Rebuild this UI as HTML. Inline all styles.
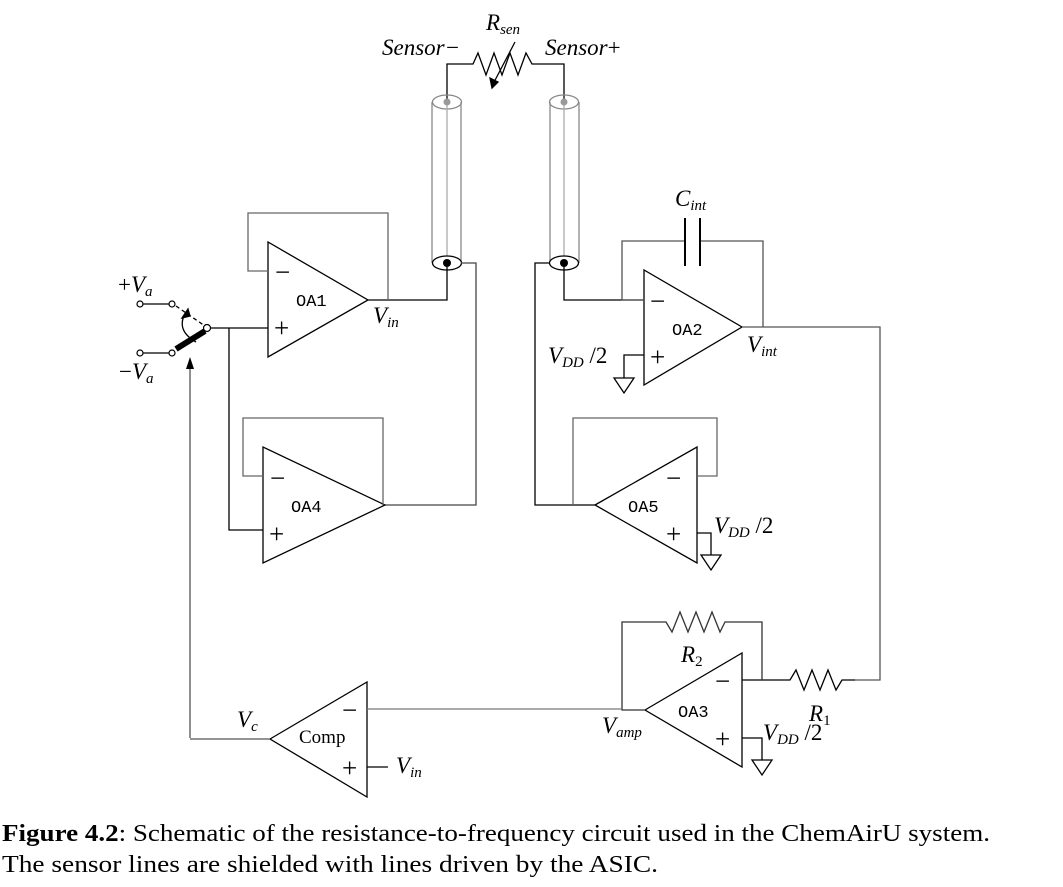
<!DOCTYPE html>
<html><head><meta charset="utf-8"><style>
body{margin:0;background:#fff;width:1063px;height:887px;overflow:hidden;position:relative}
svg{position:absolute;left:0;top:0}
</style></head><body>
<svg width="1063" height="887" viewBox="0 0 1063 887" font-family="Liberation Serif,serif">
<g fill="none" stroke="#000" stroke-width="1.3">
<polyline points="447,100 447,64 473,64 478,53 486,75 494,53 502,75 510,53 518,75 526,53 532,64 564,64 564,100"/>
<line x1="515" y1="42" x2="492" y2="86"/><polygon points="492,88 490,78 498,82" fill="#000"/>
<g stroke="#888">
<line x1="432" y1="102" x2="432" y2="263"/><line x1="461" y1="102" x2="461" y2="263"/>
<ellipse cx="447" cy="102" rx="14.5" ry="7"/>
<line x1="447" y1="102" x2="447" y2="263" stroke="#aaa"/>
<line x1="550" y1="102" x2="550" y2="263"/><line x1="579" y1="102" x2="579" y2="263"/>
<ellipse cx="564" cy="102" rx="14.5" ry="7"/>
<line x1="564" y1="102" x2="564" y2="263" stroke="#aaa"/>
</g>
<ellipse cx="447" cy="263" rx="14.5" ry="7" fill="#fff"/>
<ellipse cx="564" cy="263" rx="14.5" ry="7" fill="#fff"/>
<polyline points="447,263 447,300 368,300"/>
<polyline points="461,263 476,263 476,505 385,505" stroke="#444"/>
<polygon points="268,242 268,357 368,300"/>
<polyline points="268,271 248,271 248,213 388,213 388,300" stroke="#666"/>
<line x1="143" y1="304" x2="170" y2="304"/><line x1="143" y1="353" x2="170" y2="353"/>
<line x1="176" y1="349" x2="205" y2="331" stroke-width="6"/>
<line x1="176" y1="306" x2="205" y2="326" stroke-dasharray="4,3"/>
<path d="M196,342 Q175,330 186,312"/><polygon points="188,309 182,318 190,316" fill="#000"/>
<line x1="210" y1="328" x2="268" y2="328"/>
<polyline points="229,328 229,530 263,530"/>
<polyline points="190,738 190,368" stroke="#555"/>
<polygon points="190,357 186,369 194,369" fill="#000" stroke="none"/>
<polygon points="263,447 263,563 385,505"/>
<polyline points="263,476 243,476 243,418 383,418 383,505" stroke="#666"/>
<polyline points="564,263 564,300 644,300"/>
<polyline points="550,263 535,263 535,505 595,505"/>
<polygon points="644,270 644,385 742,327"/>
<polyline points="644,300 622,300 622,241 685,241" stroke="#555"/>
<polyline points="700,241 763,241 763,327" stroke="#555"/>
<line x1="685" y1="218" x2="685" y2="266" stroke-width="2"/><line x1="700" y1="218" x2="700" y2="266" stroke-width="2"/>
<polyline points="742,327 880,327 880,680 855,680" stroke="#555"/>
<polyline points="644,355 624,355 624,378"/><polygon points="614,378 634,378 624,393"/>
<polygon points="595,505 697,447 697,563"/>
<polyline points="697,476 717,476 717,418 573,418 573,505" stroke="#666"/>
<polyline points="697,533 711,533 711,555"/><polygon points="701,555 721,555 711,570"/>
<polygon points="645,710 742,653 742,767"/>
<polyline points="742,680 790,680 796,670 804,690 812,670 820,690 828,670 836,690 842,680 855,680"/>
<polyline points="762,680 762,622 725,622 720,632 712,612 704,632 696,612 688,632 680,612 672,632 666,622 622,622 622,710 645,710" stroke="#333"/>
<polyline points="742,738 762,738 762,760"/><polygon points="752,760 772,760 762,775"/>
<polygon points="270,739 367,682 367,797"/>
<line x1="367" y1="709" x2="622" y2="709" stroke="#777"/>
<line x1="367" y1="767" x2="388" y2="767"/>
<polyline points="270,739 190,739" stroke="#555"/>
</g>
<g fill="#000"><circle cx="447" cy="263" r="4"/><circle cx="564" cy="263" r="4"/></g>
<g fill="#999"><circle cx="447" cy="102" r="3.5"/><circle cx="564" cy="102" r="3.5"/></g>
<g fill="#fff" stroke="#000" stroke-width="1.2">
<circle cx="140" cy="304" r="3"/><circle cx="172" cy="304" r="3"/><circle cx="140" cy="353" r="3"/><circle cx="172" cy="353" r="3"/><circle cx="207" cy="328" r="3.5"/>
</g>
<g font-size="23" font-style="italic">
<text x="486" y="30">R<tspan font-size="15" dy="4">sen</tspan></text>
<text x="382" y="55">Sensor−</text>
<text x="545" y="55">Sensor<tspan font-style="normal">+</tspan></text>
<text x="675" y="206">C<tspan font-size="15" dy="4">int</tspan></text>
<text x="118" y="292"><tspan font-style="normal">+</tspan>V<tspan font-size="15" dy="4">a</tspan></text>
<text x="119" y="379"><tspan font-style="normal">−</tspan>V<tspan font-size="15" dy="4">a</tspan></text>
<text x="373" y="323">V<tspan font-size="15" dy="4">in</tspan></text>
<text x="747" y="352">V<tspan font-size="15" dy="4">int</tspan></text>
<text x="548" y="363">V<tspan font-size="15" dy="4">DD</tspan><tspan dy="-4" font-style="normal"> /2</tspan></text>
<text x="714" y="533">V<tspan font-size="15" dy="4">DD</tspan><tspan dy="-4" font-style="normal"> /2</tspan></text>
<text x="763" y="740">V<tspan font-size="15" dy="4">DD</tspan><tspan dy="-4" font-style="normal"> /2</tspan></text>
<text x="681" y="662">R<tspan font-size="15" dy="4" font-style="normal">2</tspan></text>
<text x="809" y="721">R<tspan font-size="15" dy="4" font-style="normal">1</tspan></text>
<text x="602" y="733">V<tspan font-size="15" dy="4">amp</tspan></text>
<text x="237" y="727">V<tspan font-size="15" dy="4">c</tspan></text>
<text x="396" y="773">V<tspan font-size="15" dy="4">in</tspan></text>
</g>
<g font-size="27" font-family="Liberation Serif,serif">
<text x="275" y="281">−</text><text x="274" y="337">+</text>
<text x="270" y="487">−</text><text x="269" y="543">+</text>
<text x="650" y="310">−</text><text x="650" y="366">+</text>
<text x="666" y="487">−</text><text x="666" y="543">+</text>
<text x="715" y="690">−</text><text x="715" y="748">+</text>
<text x="342" y="719">−</text><text x="342" y="777">+</text>
</g>
<g font-size="17" font-family="Liberation Mono,monospace">
<text x="296" y="306">OA1</text><text x="291" y="512">OA4</text>
<text x="672" y="335">OA2</text><text x="628" y="512">OA5</text>
<text x="678" y="717">OA3</text>
</g>
<text x="299" y="743" font-size="19">Comp</text>
<text x="2" y="841" font-size="24" textLength="988" lengthAdjust="spacingAndGlyphs"><tspan font-weight="bold">Figure 4.2</tspan>: Schematic of the resistance-to-frequency circuit used in the ChemAirU system.</text>
<text x="2" y="872" font-size="24" textLength="656" lengthAdjust="spacingAndGlyphs">The sensor lines are shielded with lines driven by the ASIC.</text>
</svg>
</body></html>
